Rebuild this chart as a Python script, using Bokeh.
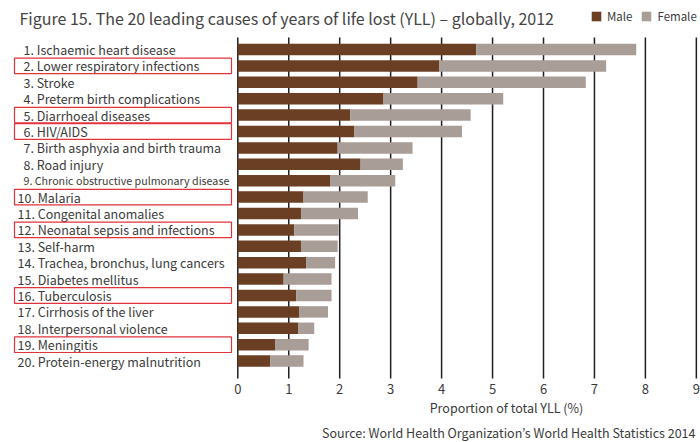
from bokeh.plotting import figure
from bokeh.models import ColumnDataSource, Range1d, Legend, LegendItem
from bokeh.core.properties import value
from bokeh.embed import file_html
from bokeh.resources import INLINE

# ---------------- data ----------------
causes = [
    "Ischaemic heart disease", "Lower respiratory infections", "Stroke",
    "Preterm birth complications", "Diarrhoeal diseases", "HIV/AIDS",
    "Birth asphyxia and birth trauma", "Road injury",
    "Chronic obstructive pulmonary disease", "Malaria", "Congenital anomalies",
    "Neonatal sepsis and infections", "Self-harm",
    "Trachea, bronchus, lung cancers", "Diabetes mellitus", "Tuberculosis",
    "Cirrhosis of the liver", "Interpersonal violence", "Meningitis",
    "Protein-energy malnutrition",
]
male = [4.68, 3.95, 3.53, 2.86, 2.21, 2.29, 1.96, 2.41, 1.81, 1.29,
        1.24, 1.11, 1.24, 1.34, 0.90, 1.15, 1.21, 1.19, 0.74, 0.64]
female = [3.14, 3.28, 3.30, 2.35, 2.36, 2.11, 1.47, 0.83, 1.28, 1.26,
          1.12, 0.87, 0.72, 0.57, 0.94, 0.69, 0.56, 0.31, 0.65, 0.65]
highlighted = [2, 5, 6, 10, 12, 16, 19]
ticks = [0, 1, 2, 3, 4, 5, 6, 7, 8, 9]
title_text = "Figure 15. The 20 leading causes of years of life lost (YLL) \u2013 globally, 2012"
x_title = "Proportion of total YLL (%)"
source_text = "Source: World Health Organization\u2019s World Health Statistics 2014"

# ---------------- layout helpers (canvas px -> data) ----------------
W, H = 700, 442
X0_PX, SX = 237.3, 50.95       # px of value 0, px per unit
ROW1_PX, SY = 49.0, 16.4       # px of row 1 centre, px per row


def xd(px):
    return (px - X0_PX) / SX


def yd(py):
    return 1 + (py - ROW1_PX) / SY


FONT = "Noto Sans CJK JP"
TXT = "#3b3b3b"
MALE_C = "#6b3f24"
FEMALE_C = "#a99d98"

rows = list(range(1, len(causes) + 1))
total = [m + f for m, f in zip(male, female)]
labels = ["%d. %s" % (r, c) for r, c in zip(rows, causes)]
label_x = [xd(23) if r < 10 else xd(17) for r in rows]
label_size = ["10.7px" if len(c) > 32 else "12.5px" for c in causes]

src = ColumnDataSource(dict(y=rows, male=male, female=female, total=total,
                            label=labels, lx=label_x, fs=label_size))

p = figure(width=W, height=H, output_backend="svg", toolbar_location=None,
           x_range=Range1d(xd(0), xd(W)), y_range=Range1d(yd(H), yd(0)),
           min_border=0, x_axis_location=None, y_axis_location=None)
p.outline_line_color = None
p.grid.visible = False
p.background_fill_color = "white"

# vertical lines at ticks
p.segment(x0=ticks, x1=ticks, y0=[yd(37)] * len(ticks), y1=[yd(378)] * len(ticks),
          line_color="#231f20", line_width=1.5)

# tick labels
p.text(x=ticks, y=[yd(388)] * len(ticks), text=[str(t) for t in ticks],
       text_font=value(FONT), text_font_size="13px", text_color=TXT,
       text_align="center", text_baseline="middle")

# bars
r_m = p.hbar(y="y", left=0, right="male", height=0.7, source=src,
             fill_color=MALE_C, line_color=None)
r_f = p.hbar(y="y", left="male", right="total", height=0.7, source=src,
             fill_color=FEMALE_C, line_color=None)

# category labels
p.text(x="lx", y="y", text="label", source=src, text_font=value(FONT),
       text_font_size="fs", text_color=TXT, text_baseline="middle", text_align="left")

# red boxes around highlighted causes
p.rect(x=[xd((14 + 231) / 2)] * len(highlighted), y=highlighted,
       width=(231 - 14) / SX, height=0.95, fill_color=None,
       line_color="#e2323c", line_width=1.2)

# title
p.text(x=[xd(19)], y=[yd(17.5)], text=[title_text], text_font=value(FONT),
       text_font_size="16px", text_color="#444444", text_baseline="middle",
       text_align="left")

# axis title and source
p.text(x=[xd(506)], y=[yd(407)], text=[x_title], text_font=value(FONT),
       text_font_size="12.5px", text_color=TXT, text_align="center",
       text_baseline="middle")
p.text(x=[xd(695)], y=[yd(432)], text=[source_text], text_font=value(FONT),
       text_font_size="12.5px", text_color=TXT, text_align="right",
       text_baseline="middle")

# legend
legend = Legend(items=[LegendItem(label="Male", renderers=[r_m]),
                       LegendItem(label="Female", renderers=[r_f])],
                orientation="horizontal", location=(590, 418),
                glyph_width=12, glyph_height=12, label_height=12,
                label_standoff=5, spacing=8, padding=0, margin=0,
                border_line_color=None, background_fill_alpha=0,
                label_text_font=FONT, label_text_font_size="11.5px",
                label_text_color=TXT)
p.add_layout(legend)

open("out.html", "w").write(file_html(p, INLINE))
